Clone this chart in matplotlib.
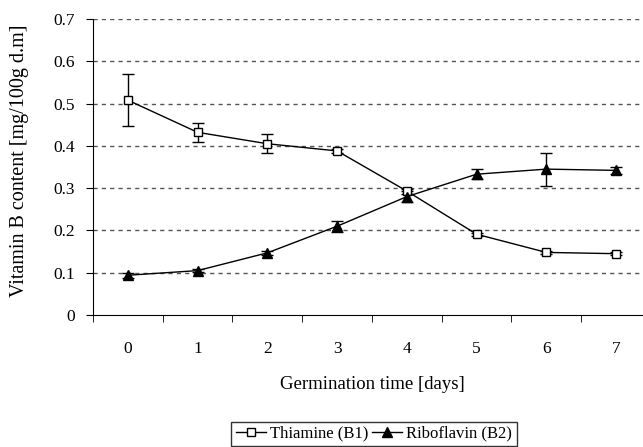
import matplotlib.pyplot as plt
from matplotlib.ticker import FixedLocator

plt.rcParams['font.family'] = ['Liberation Serif', 'DejaVu Serif']

# data
days = [0, 1, 2, 3, 4, 5, 6, 7]
thiamine = [0.508, 0.432, 0.405, 0.388, 0.293, 0.191, 0.148, 0.145]
thiamine_err = [0.062, 0.022, 0.022, 0.004, 0.006, 0.004, 0.004, 0.004]
riboflavin = [0.094, 0.105, 0.147, 0.210, 0.280, 0.333, 0.345, 0.342]
riboflavin_err = [0.006, 0.003, 0.004, 0.013, 0.013, 0.012, 0.039, 0.009]
y_ticks = [0, 0.1, 0.2, 0.3, 0.4, 0.5, 0.6, 0.7]

fig = plt.figure(figsize=(6.43, 4.47), dpi=100)
ax = fig.add_axes([93/643, 132/447, 558/643, 296/447])

# error bars first, lines + markers on top (so legend shows no bars)
ax.errorbar(days, thiamine, yerr=thiamine_err, fmt='none', ecolor='black',
            capsize=4, elinewidth=1)
ax.errorbar(days, riboflavin, yerr=riboflavin_err, fmt='none', ecolor='black',
            capsize=4, elinewidth=1)
ax.plot(days, thiamine, color='black', lw=1, marker='s', ms=6,
        mfc='white', mec='black', mew=1, label='Thiamine (B1)')
ax.plot(days, riboflavin, color='black', lw=1, marker='^', ms=7,
        mfc='black', mec='black', label='Riboflavin (B2)')

ax.set_xlim(-0.5, 7.5)
ax.set_ylim(0, 0.7)
ax.set_xticks(days)
ax.set_xticklabels([str(d) for d in days])
ax.xaxis.set_minor_locator(FixedLocator([d - 0.5 for d in days] + [7.5]))
ax.tick_params(axis='x', which='major', length=0, pad=19, labelsize=12.5)
ax.tick_params(axis='x', which='minor', length=5, direction='out')
ax.set_yticks(y_ticks)
ax.set_yticklabels(['0'] + [f'{v:.1f}' for v in y_ticks[1:]])
ax.tick_params(axis='y', length=5, direction='out', labelsize=12.5, pad=8)

for v in y_ticks[1:]:
    ax.axhline(v, color='#555555', lw=1, ls=(0, (3, 3)), zorder=0)

for s in ['top', 'right']:
    ax.spines[s].set_visible(False)

ax.set_xlabel('Germination time [days]', fontsize=13.5)
ax.xaxis.set_label_coords(0.5, -0.206)
ax.set_ylabel('Vitamin B content [mg/100g d.m]', fontsize=14.5)
ax.yaxis.set_label_coords(-0.115, 0.52)

leg = fig.legend(loc='lower center', bbox_to_anchor=(374/643, -0.005), ncol=2,
                 fontsize=12, frameon=True, fancybox=False, edgecolor='black',
                 handlelength=1.8, handletextpad=0.25, columnspacing=0.25,
                 borderpad=0.25, borderaxespad=0.2)
leg.get_frame().set_linewidth(1)

fig.savefig('out.png', dpi=100)
